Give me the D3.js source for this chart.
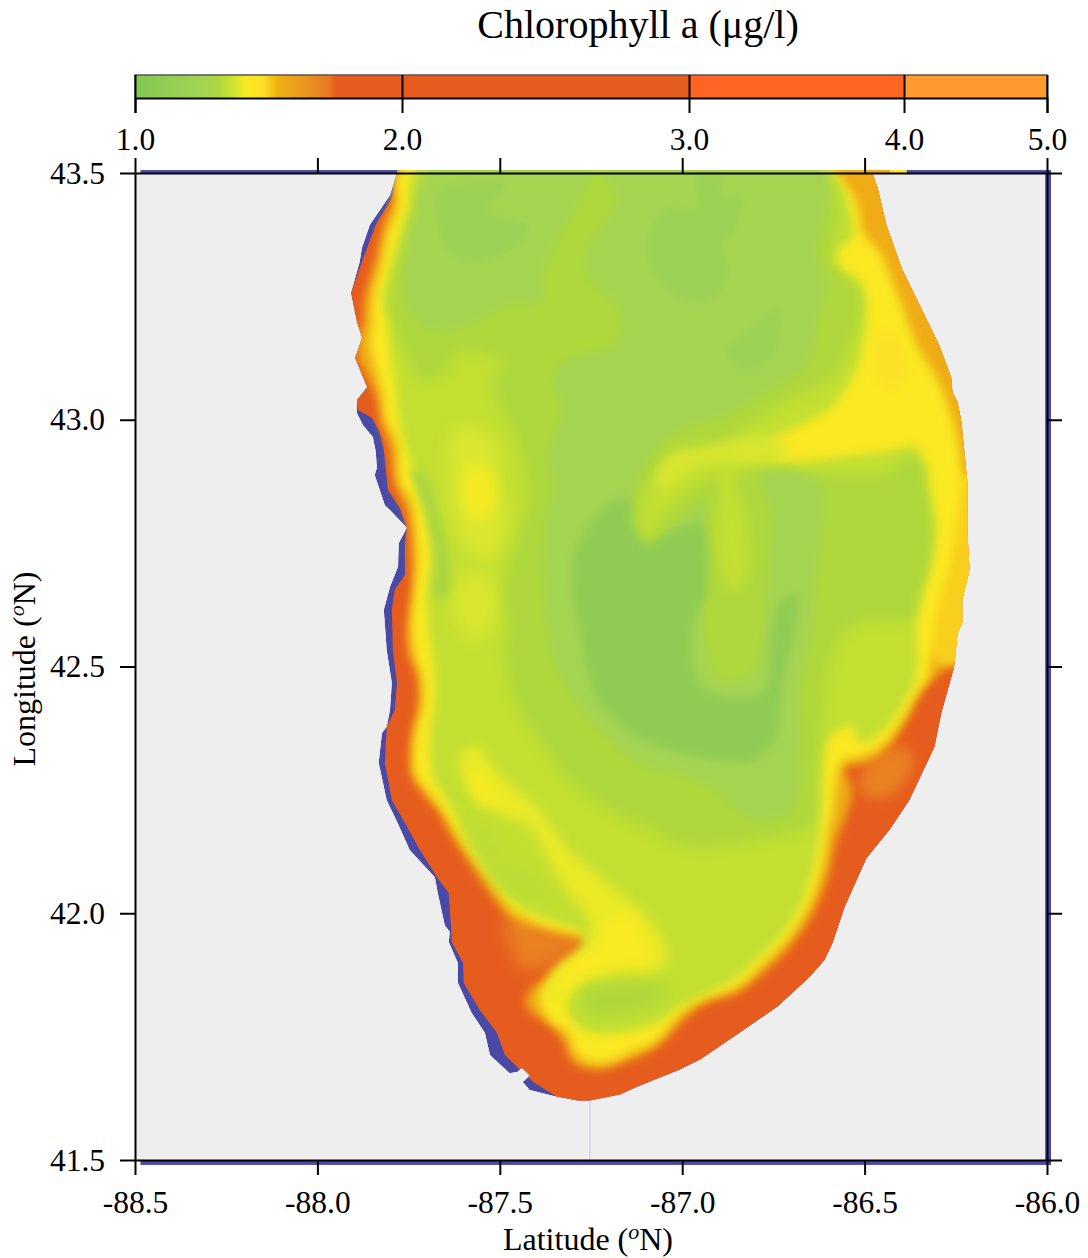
<!DOCTYPE html>
<html lang="en">
<head>
<meta charset="UTF-8">
<title>Chlorophyll a</title>
<script src="https://d3js.org/d3.v7.min.js"></script>
<style>
  html, body { margin: 0; padding: 0; background: #fff; }
  svg { display: block; }
  text { font-family: "Liberation Serif", serif; fill: #000; }
  .axis path, .axis line { stroke: #000; stroke-width: 2px; }
  .axis text { font-size: 31.5px; font-family: "Liberation Serif", serif; }
</style>
</head>
<body>
<svg id="chart" width="1088" height="1258"></svg>
<script>
// colour bar
const barTicks = [1, 2, 3, 4, 5];
const barValues = [1, 1.08, 1.1, 1.2, 1.27, 1.31, 1.35, 1.39, 1.415, 1.48, 1.535, 1.625, 1.73, 1.75, 2.995, 3.0, 3.995, 4.0, 5];
const barColors = ["#7fc854", "#8cca53", "#90cc53", "#9cd152", "#a5d451", "#aed73a", "#c2df33", "#dfe82c", "#f9ea20", "#fce028", "#f0b010", "#e89a20", "#e97620", "#e65c1e", "#e65c1e", "#ff6522", "#ff6522", "#ff9a2e", "#ff9a2e"];

// axes
const lonTicks = [-88.5, -88, -87.5, -87, -86.5, -86];
const latTicks = [41.5, 42, 42.5, 43, 43.5];

// shoreline [lon, lat]
const coastWest = [[-87.78,43.506],[-87.801,43.455],[-87.856,43.395],[-87.878,43.348],[-87.884,43.32],[-87.908,43.257],[-87.892,43.198],[-87.878,43.166],[-87.897,43.125],[-87.864,43.066],[-87.892,43.04],[-87.892,43.014],[-87.875,42.989],[-87.848,42.965],[-87.84,42.935],[-87.837,42.902],[-87.843,42.888],[-87.815,42.827],[-87.801,42.817],[-87.755,42.781],[-87.777,42.75],[-87.779,42.702],[-87.801,42.661],[-87.818,42.615],[-87.81,42.533],[-87.796,42.467],[-87.801,42.412],[-87.81,42.378],[-87.823,42.365],[-87.832,42.305],[-87.81,42.229],[-87.78,42.183],[-87.747,42.128],[-87.678,42.073],[-87.67,42.041],[-87.651,41.976],[-87.637,41.962],[-87.64,41.942],[-87.615,41.899],[-87.615,41.859],[-87.577,41.798],[-87.541,41.758],[-87.527,41.713],[-87.473,41.676],[-87.451,41.679],[-87.44,41.687],[-87.418,41.671],[-87.437,41.658],[-87.418,41.642],[-87.344,41.628],[-87.286,41.62]];
const coastEast = [[-87.253,41.62],[-87.171,41.632],[-87.124,41.648],[-87.007,41.683],[-86.951,41.703],[-86.842,41.758],[-86.738,41.811],[-86.65,41.871],[-86.609,41.906],[-86.587,41.94],[-86.554,42.013],[-86.494,42.112],[-86.431,42.169],[-86.377,42.229],[-86.308,42.337],[-86.289,42.406],[-86.254,42.499],[-86.245,42.568],[-86.232,42.588],[-86.232,42.635],[-86.212,42.696],[-86.218,42.771],[-86.218,42.874],[-86.234,42.995],[-86.245,43.036],[-86.259,43.056],[-86.262,43.085],[-86.295,43.151],[-86.398,43.307],[-86.44,43.395],[-86.464,43.47],[-86.481,43.506]];
// where the unresolved (blue) margin stops on the west side
const orangeWest = [[-87.774,43.506],[-87.796,43.449],[-87.84,43.395],[-87.864,43.348],[-87.878,43.32],[-87.908,43.257],[-87.892,43.198],[-87.878,43.166],[-87.897,43.125],[-87.864,43.066],[-87.892,43.04],[-87.889,43.02],[-87.851,43.004],[-87.829,42.975],[-87.818,42.939],[-87.812,42.898],[-87.807,42.858],[-87.774,42.821],[-87.755,42.781],[-87.76,42.747],[-87.76,42.686],[-87.788,42.655],[-87.796,42.615],[-87.793,42.533],[-87.782,42.467],[-87.788,42.412],[-87.81,42.378],[-87.815,42.305],[-87.796,42.229],[-87.76,42.183],[-87.719,42.128],[-87.672,42.073],[-87.64,42.041],[-87.634,41.976],[-87.632,41.942],[-87.601,41.899],[-87.599,41.859],[-87.555,41.804],[-87.508,41.758],[-87.486,41.713],[-87.445,41.683],[-87.404,41.656],[-87.344,41.628],[-87.286,41.62]];

// contour rings [lon, lat]
const amberRing = [[-87.78,43.51],[-87.79,43.449],[-87.815,43.401],[-87.842,43.32],[-87.87,43.247],[-87.875,43.198],[-87.889,43.162],[-87.889,43.125],[-87.862,43.085],[-87.837,43.044],[-87.823,42.989],[-87.801,42.943],[-87.788,42.874],[-87.76,42.823],[-87.747,42.791],[-87.741,42.722],[-87.738,42.669],[-87.752,42.588],[-87.752,42.533],[-87.725,42.479],[-87.725,42.418],[-87.738,42.371],[-87.741,42.284],[-87.711,42.243],[-87.67,42.209],[-87.642,42.169],[-87.582,42.102],[-87.519,42.033],[-87.464,41.986],[-87.382,41.966],[-87.253,41.94],[-87.234,41.926],[-87.308,41.905],[-87.363,41.871],[-87.418,41.844],[-87.426,41.81],[-87.371,41.778],[-87.327,41.743],[-87.3,41.699],[-87.234,41.683],[-87.163,41.697],[-87.07,41.73],[-87.015,41.77],[-86.971,41.801],[-86.933,41.819],[-86.85,41.839],[-86.779,41.879],[-86.705,41.932],[-86.642,42.001],[-86.604,42.068],[-86.577,42.149],[-86.555,42.189],[-86.535,42.25],[-86.555,42.295],[-86.494,42.305],[-86.44,42.331],[-86.385,42.392],[-86.341,42.453],[-86.303,42.479],[-86.259,42.507],[-86.171,42.513],[-86.129,42.837],[-86.157,43.243],[-86.403,43.517]];
const yellowRing = [[-87.769,43.51],[-87.782,43.429],[-87.807,43.38],[-87.823,43.32],[-87.848,43.247],[-87.851,43.198],[-87.856,43.151],[-87.837,43.097],[-87.821,43.05],[-87.815,43.004],[-87.782,42.955],[-87.774,42.874],[-87.741,42.833],[-87.733,42.791],[-87.725,42.722],[-87.733,42.655],[-87.741,42.588],[-87.733,42.527],[-87.714,42.479],[-87.711,42.418],[-87.733,42.357],[-87.733,42.284],[-87.7,42.25],[-87.656,42.209],[-87.623,42.169],[-87.582,42.122],[-87.519,42.062],[-87.464,42.007],[-87.371,41.973],[-87.225,41.94],[-87.308,41.885],[-87.39,41.838],[-87.371,41.79],[-87.316,41.758],[-87.281,41.709],[-87.218,41.697],[-87.144,41.717],[-87.07,41.743],[-87.015,41.79],[-86.966,41.818],[-86.933,41.83],[-86.85,41.851],[-86.788,41.891],[-86.714,41.946],[-86.659,42.007],[-86.618,42.088],[-86.601,42.163],[-86.587,42.209],[-86.577,42.276],[-86.563,42.307],[-86.514,42.317],[-86.459,42.337],[-86.403,42.386],[-86.357,42.446],[-86.329,42.473],[-86.3,42.621],[-86.27,42.696],[-86.25,42.777],[-86.235,42.858],[-86.235,42.908],[-86.26,43.004],[-86.303,43.085],[-86.357,43.151],[-86.395,43.226],[-86.431,43.293],[-86.459,43.34],[-86.505,43.381],[-86.522,43.441],[-86.577,43.496],[-86.609,43.51]];
const yellowGreenRing = [[-87.727,43.51],[-87.752,43.429],[-87.78,43.36],[-87.801,43.299],[-87.821,43.247],[-87.807,43.198],[-87.801,43.137],[-87.788,43.076],[-87.78,43.024],[-87.769,42.975],[-87.752,42.929],[-87.727,42.868],[-87.711,42.827],[-87.697,42.791],[-87.686,42.722],[-87.7,42.655],[-87.697,42.588],[-87.683,42.519],[-87.678,42.438],[-87.692,42.351],[-87.683,42.276],[-87.645,42.229],[-87.601,42.169],[-87.546,42.102],[-87.492,42.047],[-87.426,42.007],[-87.344,41.98],[-87.273,41.96],[-87.295,41.875],[-87.316,41.81],[-87.273,41.764],[-87.163,41.758],[-87.07,41.778],[-87.007,41.811],[-86.951,41.831],[-86.861,41.865],[-86.796,41.906],[-86.725,41.96],[-86.678,42.013],[-86.642,42.088],[-86.623,42.163],[-86.618,42.229],[-86.615,42.284],[-86.596,42.357],[-86.533,42.378],[-86.514,42.345],[-86.44,42.378],[-86.385,42.438],[-86.357,42.487],[-86.357,42.588],[-86.341,42.655],[-86.316,42.722],[-86.308,42.791],[-86.329,42.858],[-86.357,42.943],[-86.445,42.935],[-86.76,42.923],[-86.76,42.955],[-86.678,42.989],[-86.596,43.024],[-86.527,43.097],[-86.5,43.182],[-86.508,43.273],[-86.568,43.308],[-86.574,43.344],[-86.533,43.368],[-86.541,43.429],[-86.609,43.51]];
const limeRing = [[-87.705,43.51],[-87.719,43.476],[-87.741,43.401],[-87.788,43.299],[-87.801,43.226],[-87.766,43.151],[-87.719,43.085],[-87.645,43.097],[-87.618,43.137],[-87.481,43.111],[-87.519,43.085],[-87.508,43.044],[-87.445,42.943],[-87.426,42.841],[-87.44,42.791],[-87.492,42.655],[-87.481,42.588],[-87.486,42.533],[-87.459,42.432],[-87.39,42.351],[-87.308,42.27],[-87.198,42.209],[-87.07,42.163],[-87.026,42.143],[-86.933,42.135],[-86.705,42.163],[-86.642,42.183],[-86.631,42.297],[-86.615,42.386],[-86.604,42.479],[-86.568,42.56],[-86.514,42.588],[-86.369,42.6],[-86.357,42.635],[-86.329,42.69],[-86.316,42.777],[-86.329,42.858],[-86.34,42.908],[-86.39,42.925],[-86.431,42.895],[-86.829,42.895],[-86.856,42.878],[-86.829,42.817],[-86.815,42.696],[-86.84,42.66],[-86.87,42.655],[-86.911,42.757],[-86.903,42.878],[-86.979,42.858],[-87.048,42.807],[-87.089,42.767],[-87.116,42.787],[-87.089,42.878],[-87.034,42.939],[-86.971,42.949],[-86.878,42.963],[-86.788,43.004],[-86.698,43.044],[-86.588,43.085],[-86.533,43.166],[-86.514,43.218],[-86.514,43.259],[-86.596,43.32],[-86.588,43.354],[-86.568,43.415],[-86.629,43.51]];
const lightRing = [[-87.225,43.51],[-87.178,43.449],[-87.26,43.348],[-87.26,43.293],[-87.178,43.226],[-87.178,43.157],[-87.329,43.117],[-87.355,43.069],[-87.329,43.03],[-87.371,42.923],[-87.355,42.874],[-87.378,42.777],[-87.378,42.635],[-87.351,42.513],[-87.295,42.432],[-87.198,42.351],[-87.116,42.3],[-87.007,42.28],[-86.911,42.25],[-86.815,42.193],[-86.705,42.205],[-86.678,42.317],[-86.678,42.453],[-86.651,42.554],[-86.632,42.69],[-86.615,42.824],[-86.623,42.874],[-86.788,42.892],[-86.76,42.817],[-86.774,42.635],[-86.801,42.493],[-86.897,42.473],[-86.938,42.554],[-86.951,42.696],[-86.938,42.837],[-87.028,42.777],[-87.089,42.726],[-87.138,42.746],[-87.144,42.817],[-87.103,42.908],[-87.062,42.949],[-86.979,42.989],[-86.878,43.01],[-86.788,43.05],[-86.659,43.111],[-86.631,43.198],[-86.604,43.279],[-86.632,43.34],[-86.615,43.401],[-86.615,43.51]];
const lightWestLobe = [[-87.686,43.51],[-87.733,43.415],[-87.76,43.324],[-87.76,43.243],[-87.692,43.182],[-87.555,43.202],[-87.486,43.232],[-87.39,43.243],[-87.378,43.303],[-87.337,43.374],[-87.282,43.445],[-87.255,43.51]];
const greenCentre = [[-87.19,42.837],[-87.3,42.722],[-87.281,42.568],[-87.234,42.438],[-87.152,42.371],[-87.062,42.337],[-86.917,42.31],[-86.807,42.31],[-86.741,42.357],[-86.725,42.453],[-86.686,42.641],[-86.724,42.641],[-86.76,42.554],[-86.779,42.449],[-86.944,42.459],[-86.971,42.574],[-86.933,42.655],[-86.951,42.791],[-87.042,42.771],[-87.089,42.746],[-87.138,42.783],[-87.144,42.837]];
const darkNorthWest = [[-87.664,43.465],[-87.487,43.476],[-87.536,43.429],[-87.508,43.415],[-87.418,43.389],[-87.464,43.348],[-87.563,43.318],[-87.629,43.334],[-87.664,43.38]];
const darkNorthEast = [[-86.96,43.502],[-86.892,43.502],[-86.889,43.455],[-86.834,43.455],[-86.837,43.429],[-86.861,43.38],[-86.892,43.354],[-86.87,43.299],[-86.933,43.239],[-87.007,43.247],[-87.062,43.279],[-87.097,43.334],[-87.089,43.389],[-87.04,43.429],[-86.96,43.429]];
const darkNorthSmall = [[-86.738,43.226],[-86.738,43.157],[-86.788,43.105],[-86.842,43.105],[-86.878,43.137],[-86.823,43.178]];

// smaller patches
const westPatchA = [[-87.623,42.979],[-87.527,42.969],[-87.5,42.878],[-87.486,42.777],[-87.527,42.716],[-87.596,42.747],[-87.632,42.837]];
const westPatchB = [[-87.61,42.686],[-87.514,42.676],[-87.514,42.584],[-87.582,42.554],[-87.623,42.594]];
const westCore = [[-87.588,42.898],[-87.527,42.898],[-87.514,42.827],[-87.555,42.797],[-87.596,42.817]];
const southStreak = [[-87.615,42.31],[-87.568,42.34],[-87.5,42.28],[-87.404,42.219],[-87.308,42.128],[-87.198,42.057],[-87.089,41.986],[-87.04,41.915],[-87.075,41.881],[-87.171,41.875],[-87.267,41.861],[-87.322,41.824],[-87.368,41.824],[-87.363,41.875],[-87.267,41.936],[-87.253,41.976],[-87.336,42.067],[-87.426,42.179],[-87.5,42.199],[-87.582,42.25]];
const tongueCore = [[-87.225,41.976],[-87.144,41.997],[-87.103,41.946],[-87.089,41.905],[-87.171,41.895],[-87.253,41.875],[-87.322,41.844],[-87.349,41.855],[-87.308,41.901],[-87.225,41.94]];
const streakCore = [[-87.568,42.29],[-87.527,42.26],[-87.5,42.229],[-87.541,42.219],[-87.582,42.25]];
const plumeWest = [[-86.705,42.939],[-86.76,42.963],[-86.951,42.945],[-87.034,42.929],[-87.075,42.882],[-87.048,42.858],[-86.979,42.899],[-86.897,42.915],[-86.76,42.915]];
const shoreLime = [[-87.741,42.898],[-87.705,42.888],[-87.664,42.797],[-87.637,42.716],[-87.642,42.645],[-87.675,42.635],[-87.68,42.726],[-87.705,42.817]];
const southLime = [[-87.596,42.189],[-87.549,42.179],[-87.473,42.108],[-87.378,42.067],[-87.337,42.027],[-87.418,42.017],[-87.514,42.067]];
const lensLime = [[-87.281,41.834],[-87.171,41.855],[-87.062,41.855],[-87.048,41.824],[-87.171,41.794],[-87.254,41.794]];
const northEastAmber = [[-86.459,43.182],[-86.403,43.162],[-86.376,43.101],[-86.431,43.06],[-86.473,43.091],[-86.481,43.141]];
const southEastAmber = [[-86.49,42.305],[-86.385,42.335],[-86.37,42.295],[-86.44,42.235],[-86.51,42.245]];
const tongueAmber = [[-87.481,41.986],[-87.29,41.966],[-87.26,41.94],[-87.35,41.905],[-87.43,41.885],[-87.47,41.935]];
const eastShoreAmber = [[-86.28,42.878],[-86.17,42.878],[-86.17,42.533],[-86.28,42.503],[-86.321,42.533]];

// edge of the data grid: lon0, lon1, lat0, lat1
const blueStrips = [[-88.485,-87.78,43.506,43.498],[-86.385,-85.989,43.506,43.498],[-86.005,-85.989,43.506,41.49],[-88.485,-85.989,41.5,41.49]];
const topStripLon = [-86.481, -86.43, -86.385];
const topStripValues = [1.56, 1.43];
const faintLineLon = -87.253;
const faintLineLat = [41.62, 41.5];

const blueColor = "#4a4aa6";

// scales
const xScale = d3.scaleLinear().domain([-88.5, -86]).range([135, 1047]);
const yScale = d3.scaleLinear().domain([41.5, 43.5]).range([1160, 173]);
const barScale = d3.scaleLinear().domain(barTicks).range([135, 402, 689, 904, 1047]);
const colorScale = d3.scaleLinear().domain(barValues).range(barColors).clamp(true);

const svg = d3.select("#chart");
const defs = svg.append("defs");
const lineGen = d3.line().x(d => xScale(d[0])).y(d => yScale(d[1])).curve(d3.curveLinearClosed);
// contours are rounder than the shoreline
const smoothGen = d3.line().x(d => xScale(d[0])).y(d => yScale(d[1])).curve(d3.curveCatmullRomClosed.alpha(0.5));

// title + colour bar
svg.append("text").attr("x", 638).attr("y", 38).attr("text-anchor", "middle")
  .style("font-size", "40px").text("Chlorophyll a (\u03bcg/l)");

const grad = defs.append("linearGradient").attr("id", "barGrad");
grad.selectAll("stop").data(barValues).enter().append("stop")
  .attr("offset", d => (barScale(d) - 135) / 912)
  .attr("stop-color", d => colorScale(d));
svg.append("rect").attr("x", 135).attr("y", 75).attr("width", 912).attr("height", 23)
  .attr("fill", "url(#barGrad)");
svg.append("path").attr("fill", "none").attr("stroke", "#555").attr("stroke-width", 1.5)
  .attr("d", `M135,98V75H1047V98`);
const barAxis = d3.axisBottom(barScale).tickValues(barTicks).tickSize(15).tickFormat(d => d.toFixed(1));
const barG = svg.append("g").attr("class", "axis").attr("transform", "translate(0,98)").call(barAxis);
barG.selectAll(".tick line").attr("y1", -23);
barG.selectAll(".tick text").attr("y", 0).attr("dy", 52);

// plot background
svg.append("rect").attr("x", xScale(-88.5)).attr("y", yScale(43.5))
  .attr("width", xScale(-86) - xScale(-88.5)).attr("height", yScale(41.5) - yScale(43.5))
  .attr("fill", "#eeeeee");

// blue grid edge strips
svg.selectAll(".strip").data(blueStrips).enter().append("rect").attr("class", "strip")
  .attr("x", d => xScale(d[0])).attr("width", d => xScale(d[1]) - xScale(d[0]))
  .attr("y", d => yScale(d[2])).attr("height", d => yScale(d[3]) - yScale(d[2]))
  .attr("fill", blueColor);
svg.selectAll(".topstrip").data(topStripValues).enter().append("rect").attr("class", "topstrip")
  .attr("x", (d, i) => xScale(topStripLon[i])).attr("width", (d, i) => xScale(topStripLon[i + 1]) - xScale(topStripLon[i]))
  .attr("y", yScale(43.506)).attr("height", yScale(43.498) - yScale(43.506))
  .attr("fill", d => colorScale(d));
svg.append("line").attr("x1", xScale(faintLineLon)).attr("x2", xScale(faintLineLon))
  .attr("y1", yScale(faintLineLat[0])).attr("y2", yScale(faintLineLat[1]))
  .attr("stroke", "#c4c4e2").attr("stroke-width", 1);

// blur filters, one per softness
[1, 2.5, 4, 5, 6, 8].forEach(s => {
  defs.append("filter").attr("id", "blur" + String(s).replace(".", "_"))
    .attr("filterUnits", "userSpaceOnUse").attr("x", 0).attr("y", 0).attr("width", 1088).attr("height", 1258)
    .append("feGaussianBlur").attr("stdDeviation", s);
});
defs.append("clipPath").attr("id", "lakeClip").append("path").attr("d", lineGen(coastWest.concat(coastEast)));

// painted bottom to top: ring, contour value, blur
const layers = [
  { ring: coastWest.concat(coastEast), color: blueColor, blur: null, hard: true },
  { ring: orangeWest.concat(coastEast), value: 2, blur: null, hard: true },
  { ring: southEastAmber, value: 1.7, blur: 6 },
  { ring: tongueAmber, value: 1.7, blur: 8 },
  { ring: amberRing, value: 1.55, blur: 5 },
  { ring: eastShoreAmber, value: 1.5, blur: 5 },
  { ring: yellowRing, value: 1.43, blur: 5 },
  { ring: northEastAmber, value: 1.47, blur: 4 },
  { ring: yellowGreenRing, value: 1.35, blur: 5 },
  { ring: westPatchA, value: 1.385, blur: 8 },
  { ring: westPatchB, value: 1.38, blur: 8 },
  { ring: westCore, value: 1.41, blur: 6 },
  { ring: southStreak, value: 1.4, blur: 6 },
  { ring: tongueCore, value: 1.42, blur: 6 },
  { ring: streakCore, value: 1.41, blur: 6 },
  { ring: plumeWest, value: 1.38, blur: 6 },
  { ring: limeRing, value: 1.31, blur: 6 },
  { ring: shoreLime, value: 1.3, blur: 4 },
  { ring: southLime, value: 1.34, blur: 8 },
  { ring: lensLime, value: 1.31, blur: 8 },
  { ring: lightRing, value: 1.27, blur: 4 },
  { ring: lightWestLobe, value: 1.27, blur: 4 },
  { ring: darkNorthWest, value: 1.2, blur: 2.5 },
  { ring: darkNorthEast, value: 1.2, blur: 2.5 },
  { ring: darkNorthSmall, value: 1.2, blur: 2.5 },
  { ring: greenCentre, value: 1.1, blur: 4 }
];

const lake = svg.append("g").attr("clip-path", "url(#lakeClip)");
lake.selectAll("path").data(layers).enter().append("path")
  .attr("d", d => d.hard ? lineGen(d.ring) : smoothGen(d.ring))
  .attr("fill", d => d.color || colorScale(d.value))
  .attr("filter", d => d.blur ? "url(#blur" + String(d.blur).replace(".", "_") + ")" : null);

// frame and ticks on all four sides
const fmt = d => d.toFixed(1);
const xAxis = svg.append("g").attr("class", "axis").attr("transform", "translate(0,1160)")
  .call(d3.axisBottom(xScale).tickValues(lonTicks).tickSize(15).tickSizeOuter(0).tickFormat(fmt));
xAxis.selectAll(".tick text").attr("y", 0).attr("dy", 53);
const yAxis = svg.append("g").attr("class", "axis").attr("transform", "translate(135,0)")
  .call(d3.axisLeft(yScale).tickValues(latTicks).tickSize(15).tickSizeOuter(0).tickFormat(fmt));
yAxis.selectAll(".tick text").attr("x", -30).attr("dy", 10);
svg.append("g").attr("class", "axis").attr("transform", "translate(0,173)")
  .call(d3.axisTop(xScale).tickValues(lonTicks).tickSize(15).tickSizeOuter(0).tickFormat(""));
svg.append("g").attr("class", "axis").attr("transform", "translate(1047,0)")
  .call(d3.axisRight(yScale).tickValues(latTicks).tickSize(15).tickSizeOuter(0).tickFormat(""));

// axis titles
function degreeTitle(sel, name) {
  sel.append("tspan").text(name + " (");
  sel.append("tspan").attr("dy", -11).style("font-size", "22px").style("font-style", "italic").text("o");
  sel.append("tspan").attr("dy", 11).text("N)");
}
svg.append("text").attr("x", 588).attr("y", 1250).attr("text-anchor", "middle")
  .style("font-size", "32px").call(degreeTitle, "Latitude");
svg.append("text").attr("transform", "translate(35,669) rotate(-90)").attr("text-anchor", "middle")
  .style("font-size", "32px").call(degreeTitle, "Longitude");
</script>
</body>
</html>
